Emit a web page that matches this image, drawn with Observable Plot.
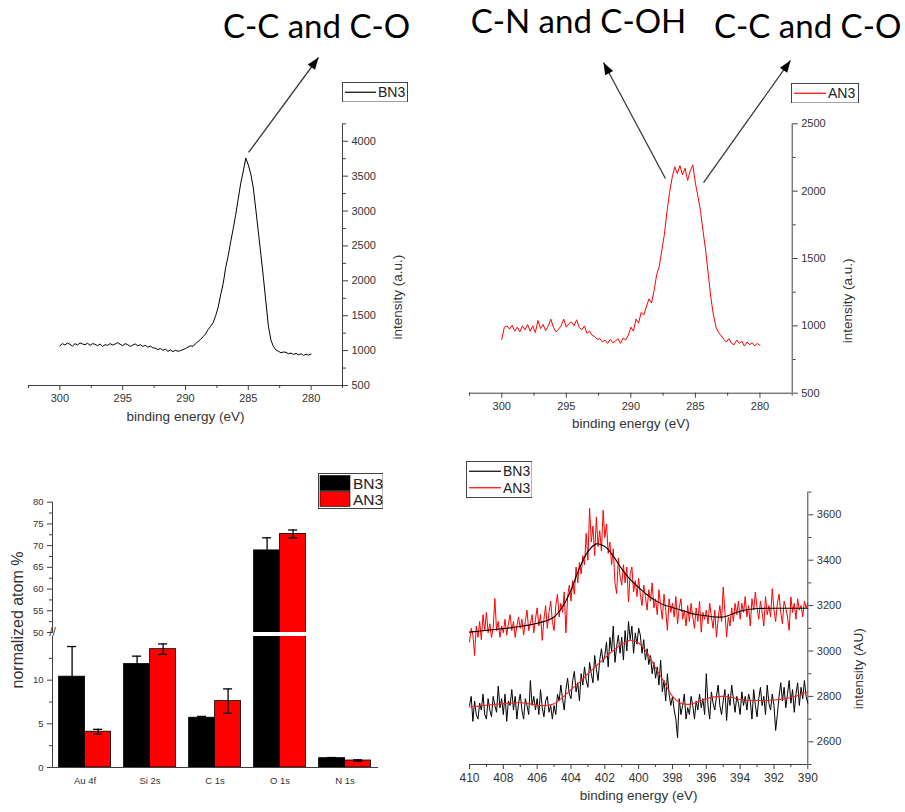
<!DOCTYPE html>
<html><head><meta charset="utf-8">
<script src="https://cdn.jsdelivr.net/npm/d3@7"></script>
<script src="https://cdn.jsdelivr.net/npm/@observablehq/plot@0.6"></script>
<style>
html,body{margin:0;padding:0;background:#fff;}
#wrap{position:relative;width:905px;height:812px;overflow:hidden;background:#fff;font-family:'Liberation Sans',Arial,Helvetica,sans-serif;}
</style></head><body><div id="wrap"></div>
<script>
// ---------------- DATA ----------------
// C 1s spectra, sampled from 300 eV down to 280 eV every 0.2 eV
const c1sStart = 300, c1sStep = 0.2;
const c1sBN3 = [
 1070,1100,1080,1110,1090,1065,1100,1080,1110,1095,
 1085,1105,1075,1100,1090,1070,1095,1060,1085,1075,
 1100,1080,1095,1115,1090,1070,1100,1085,1060,1080,
 1095,1070,1085,1060,1075,1050,1065,1040,1035,1015,
 1030,1005,1020,990,1010,985,1005,990,1000,1015,
 1030,1050,1070,1060,1100,1130,1160,1200,1240,1300,
 1350,1400,1500,1620,1800,1960,2190,2360,2560,2750,
 2950,3180,3400,3570,3760,3660,3530,3330,3020,2700,
 2380,2050,1700,1350,1150,1060,1010,990,970,980,
 975,955,965,945,960,940,955,930,950,935,
 950];
const c1sAN3 = [
 900,990,1000,975,1005,960,990,955,1000,970,
 1010,960,1000,950,1040,980,1010,965,1000,1050,
 990,955,975,1000,1050,990,1015,1030,1000,1045,
 990,970,1000,945,960,930,920,900,905,880,
 895,870,900,875,885,905,870,910,895,930,
 990,960,1050,1020,1100,1080,1140,1200,1170,1260,
 1380,1440,1560,1680,1850,1990,2100,2180,2130,2190,
 2120,2170,2080,2150,2195,2060,1960,1850,1700,1557,
 1380,1210,1080,990,950,925,900,880,905,870,
 860,895,870,885,850,880,860,875,850,870,
 855];

// N 1s spectra, sampled from 410 eV down to 390 eV every 0.1 eV
const n1sStart = 410, n1sStep = 0.1;
const n1sBN3 = [
 2760,2800,2690,2780,2720,2700,2770,2740,2810,2720,
 2700,2790,2740,2710,2800,2760,2730,2845,2750,2790,
 2720,2810,2690,2780,2760,2830,2740,2800,2700,2770,
 2810,2740,2700,2790,2760,2720,2870,2760,2800,2740,
 2790,2720,2830,2750,2710,2780,2800,2730,2760,2700,
 2760,2720,2810,2780,2850,2790,2740,2830,2880,2810,
 2790,2870,2910,2820,2860,2780,2900,2850,2930,2870,
 2840,2950,2900,2860,2980,2920,2870,2960,3010,2950,
 2980,3040,2930,3060,3000,3110,2950,3020,3070,2990,
 3060,2960,3090,3000,3130,3050,3110,2990,3080,3030,
 3100,3070,2990,3050,2960,3010,2940,2980,2900,2950,
 2880,2930,2850,2960,2820,2870,2780,2900,2810,2760,
 2800,2740,2700,2617,2790,2720,2760,2810,2700,2750,
 2720,2800,2760,2700,2780,2740,2810,2750,2790,2720,
 2900,2760,2700,2820,2770,2740,2800,2850,2760,2720,
 2780,2830,2694,2810,2760,2850,2790,2730,2800,2770,
 2720,2820,2760,2800,2740,2810,2780,2700,2830,2760,
 2710,2790,2840,2760,2800,2720,2850,2770,2740,2810,
 2760,2650,2720,2800,2860,2780,2840,2750,2810,2870,
 2770,2830,2730,2810,2860,2760,2840,2790,2870,2800,
 2770];
const n1sAN3 = [
 3040,3100,3070,2980,3110,3060,3130,3050,3160,3090,
 3170,3080,3120,3060,3100,3231,3090,3130,3060,3110,
 3080,3140,3070,3120,3160,3090,3130,3060,3110,3150,
 3100,3140,3070,3130,3180,3090,3120,3160,3080,3140,
 3190,3110,3160,3047,3140,3200,3100,3170,3220,3130,
 3090,3200,3250,3150,3210,3170,3260,3080,3240,3290,
 3220,3310,3250,3370,3300,3390,3340,3420,3380,3518,
 3400,3628,3480,3550,3420,3590,3460,3530,3440,3620,
 3500,3560,3430,3480,3380,3450,3300,3253,3410,3330,
 3290,3380,3300,3370,3216,3340,3370,3260,3310,3240,
 3320,3250,3200,3290,3240,3180,3270,3220,3300,3190,
 3230,3160,3270,3200,3140,3250,3180,3091,3230,3170,
 3210,3150,3240,3120,3190,3230,3140,3180,3110,3200,
 3130,3210,3150,3100,3190,3130,3220,3083,3170,3140,
 3180,3120,3210,3150,3100,3180,3061,3140,3200,3130,
 3282,3170,3061,3150,3110,3190,3130,3210,3160,3220,
 3140,3210,3170,3240,3150,3200,3110,3230,3180,3260,
 3190,3140,3220,3170,3110,3240,3160,3200,3150,3275,
 3180,3130,3210,3250,3170,3120,3220,3190,3150,3091,
 3238,3170,3210,3140,3230,3180,3200,3150,3220,3190,
 3210];
// fitted envelopes, sampled from 410 eV down to 390 eV every 0.5 eV
const fitStart = 410, fitStep = 0.5;
const n1sFitAN3 = [3083,3087,3091,3095,3099,3103,3108,3114,3122,3132,3150,3195,3268,3365,3438,3472,3460,3418,3362,3315,3280,3248,3222,3203,3192,3180,3168,3160,3155,3150,3150,3162,3175,3183,3187,3188,3188,3188,3188,3188,3188];
const n1sFitBN3 = [2753,2757,2761,2765,2768,2771,2772,2768,2761,2760,2768,2795,2830,2862,2900,2935,2970,3002,3030,3047,3035,2992,2925,2865,2800,2770,2765,2775,2790,2798,2800,2795,2786,2783,2782,2782,2784,2788,2795,2806,2820];

// atomic composition
const barCats = ["Au 4f", "Si 2s", "C 1s", "O 1s", "N 1s"];
const seriesNames = ["BN3", "AN3"];
const bn3Atom = [10.4, 11.85, 5.7, 68.9, 1.07];
const bn3AtomErr = [3.45, 0.9, 0.15, 2.9, 0.07];
const an3Atom = [4.1, 13.55, 7.6, 72.7, 0.8];
const an3AtomErr = [0.27, 0.6, 1.4, 0.9, 0.08];

// axes
const c1sDomainX = [302.5, 277.5];
const c1sXTicks = [300, 295, 290, 285, 280];
const c1sXMinor = [302.5, 297.5, 292.5, 287.5, 282.5, 277.5];
const bn3C1sDomainY = [500, 4250];
const bn3C1sYTicks = [500, 1000, 1500, 2000, 2500, 3000, 3500, 4000];
const bn3C1sYMinor = [750, 1250, 1750, 2250, 2750, 3250, 3750, 4250];
const an3C1sDomainY = [500, 2500];
const an3C1sYTicks = [500, 1000, 1500, 2000, 2500];
const an3C1sYMinor = [750, 1250, 1750, 2250];
const n1sDomainX = [410, 390];
const n1sXTicks = [410, 408, 406, 404, 402, 400, 398, 396, 394, 392, 390];
const n1sXMinor = [409, 407, 405, 403, 401, 399, 397, 395, 393, 391];
const n1sDomainY = [2500, 3700];
const n1sYTicks = [2600, 2800, 3000, 3200, 3400, 3600];
const n1sYMinor = [2500, 2700, 2900, 3100, 3300, 3500, 3700];
const upperDomain = [50, 80];
const upperTicks = [50, 55, 60, 65, 70, 75, 80];
const upperMinor = [52.5, 57.5, 62.5, 67.5, 72.5, 77.5];
const lowerDomain = [0, 15];
const lowerTicks = [0, 5, 10];
const lowerMinor = [2.5, 7.5, 12.5];

// annotations (in data units of each panel)
const annoTextBN3 = [{label: "C-C and C-O", e: 279.57, v: 5630}];
const annoArrowBN3 = [{e1: 284.98, v1: 3839, e2: 279.41, v2: 5200}];
const annoTextAN3 = [{label: "C-N and C-OH", e: 294.06, v: 3252}, {label: "C-C and C-O", e: 276.3, v: 3215}];
const annoArrowAN3 = [{e1: 287.32, v1: 2094, e2: 292.12, v2: 2955}, {e1: 284.37, v1: 2064, e2: 277.63, v2: 2970}];

// ---------------- DRAWING ----------------
const FONT = "'Liberation Sans', Arial, Helvetica, sans-serif";
const BIG = "Lato, 'Open Sans', sans-serif";
const AX = "#404040", TX = "#333";
const SVGNS = "http://www.w3.org/2000/svg";
const wrap = document.getElementById("wrap");
function place(el, left, top) {
  el.style.position = "absolute"; el.style.left = left + "px"; el.style.top = top + "px";
  wrap.appendChild(el); return el;
}
const fmt = d => String(d);
const blank = () => "";

// filled arrowhead marker
function filledHead() {
  const m = document.createElementNS(SVGNS, "marker");
  m.setAttribute("viewBox", "-12 -4.5 12 9");
  m.setAttribute("markerWidth", "12");
  m.setAttribute("markerHeight", "9");
  m.setAttribute("markerUnits", "userSpaceOnUse");
  m.setAttribute("orient", "auto");
  m.setAttribute("overflow", "visible");
  const p = document.createElementNS(SVGNS, "path");
  p.setAttribute("d", "M-12,-4.5L0,0L-12,4.5Z");
  p.setAttribute("fill", "#000");
  p.setAttribute("stroke", "none");
  m.appendChild(p);
  return m;
}

function spectrumAxes(domX, domY, xt, xm, yt, ym, xLabel, yLabel, fs, yLabDx) {
  return [
    Plot.ruleY([domY[0]], {stroke: AX}),
    Plot.ruleX([domX[1]], {stroke: AX}),
    Plot.axisX({ticks: xt, tickSize: 5, fontSize: fs, stroke: AX, fill: TX, tickFormat: fmt, label: null}),
    Plot.axisX({ticks: xm, tickSize: 3, stroke: AX, tickFormat: blank, label: null}),
    Plot.axisY({anchor: "right", ticks: yt, tickSize: 5, fontSize: 11, stroke: AX, fill: TX, tickFormat: fmt, label: null}),
    Plot.axisY({anchor: "right", ticks: ym, tickSize: 3, stroke: AX, tickFormat: blank, label: null}),
    Plot.text([xLabel], {text: d => d, frameAnchor: "bottom", dy: 35, fontSize: 13.5, fill: TX}),
    Plot.text([yLabel], {text: d => d, frameAnchor: "right", dx: yLabDx, rotate: -90, fontSize: 13.5, fill: TX})
  ];
}

// Panel 1: C 1s BN3
const p1 = Plot.plot({
  width: 440, height: 430, marginLeft: 28, marginRight: 98, marginTop: 123.3, marginBottom: 45,
  style: {background: "transparent", fontFamily: FONT, color: TX},
  x: {domain: c1sDomainX}, y: {domain: bn3C1sDomainY},
  marks: [
    ...spectrumAxes(c1sDomainX, bn3C1sDomainY, c1sXTicks, c1sXMinor, bn3C1sYTicks, bn3C1sYMinor, "binding energy (eV)", "intensity (a.u.)", 11, 55),
    Plot.line(c1sBN3, {x: (d, i) => c1sStart - i * c1sStep, y: d => d, stroke: "#000", strokeWidth: 1}),
    Plot.link(annoArrowBN3, {x1: "e1", y1: "v1", x2: "e2", y2: "v2", stroke: "#3a3a3a", strokeWidth: 1.3, markerEnd: filledHead}),
    Plot.text(annoTextBN3, {x: "e", y: "v", text: "label", fontSize: 33, fontFamily: BIG, fill: "#000"})
  ]
});
place(p1, 0, 0);

// Panel 2: C 1s AN3
const p2 = Plot.plot({
  width: 465, height: 440, marginLeft: 29, marginRight: 113.3, marginTop: 123.3, marginBottom: 47.3,
  style: {background: "transparent", fontFamily: FONT, color: TX},
  x: {domain: c1sDomainX}, y: {domain: an3C1sDomainY},
  marks: [
    ...spectrumAxes(c1sDomainX, an3C1sDomainY, c1sXTicks, c1sXMinor, an3C1sYTicks, an3C1sYMinor, "binding energy (eV)", "intensity (a.u.)", 11, 55),
    Plot.line(c1sAN3, {x: (d, i) => c1sStart - i * c1sStep, y: d => d, stroke: "#ff0000", strokeWidth: 1}),
    Plot.link(annoArrowAN3, {x1: "e1", y1: "v1", x2: "e2", y2: "v2", stroke: "#3a3a3a", strokeWidth: 1.3, markerEnd: filledHead}),
    Plot.text(annoTextAN3, {x: "e", y: "v", text: "label", fontSize: 33, fontFamily: BIG, fill: "#000"})
  ]
});
place(p2, 440, 0);

// Panel 4: N 1s
const p4 = Plot.plot({
  width: 455, height: 352, marginLeft: 19, marginRight: 97.7, marginTop: 31.6, marginBottom: 48,
  style: {background: "transparent", fontFamily: FONT, color: TX},
  x: {domain: n1sDomainX}, y: {domain: n1sDomainY},
  marks: [
    ...spectrumAxes(n1sDomainX, n1sDomainY, n1sXTicks, n1sXMinor, n1sYTicks, n1sYMinor, "binding energy (eV)", "intensity (AU)", 12, 51),
    Plot.line(n1sAN3, {x: (d, i) => n1sStart - i * n1sStep, y: d => d, stroke: "#ff0000", strokeWidth: 1}),
    Plot.line(n1sBN3, {x: (d, i) => n1sStart - i * n1sStep, y: d => d, stroke: "#000", strokeWidth: 1}),
    Plot.line(n1sFitAN3, {x: (d, i) => fitStart - i * fitStep, y: d => d, stroke: "#000", strokeWidth: 1.1, curve: "catmull-rom"}),
    Plot.line(n1sFitBN3, {x: (d, i) => fitStart - i * fitStep, y: d => d, stroke: "#ff2020", strokeWidth: 1.1, curve: "catmull-rom"})
  ]
});
place(p4, 450, 460);

// Panel 3: composition bars with a broken axis
const rows = barCats.flatMap((c, i) => [
  {cat: c, series: "BN3", value: bn3Atom[i], err: bn3AtomErr[i]},
  {cat: c, series: "AN3", value: an3Atom[i], err: an3AtomErr[i]}
]);
function barMarks() {
  return [
    Plot.barY(rows, {fx: "cat", x: "series", y: "value", fill: "series", stroke: "#000", strokeWidth: 0.8, clip: true}),
    Plot.ruleX(rows, {fx: "cat", x: "series", y1: d => d.value - d.err, y2: d => d.value + d.err, stroke: "#000", strokeWidth: 1.3, clip: true}),
    Plot.tickY(rows, {fx: "cat", x: "series", y: d => d.value + d.err, stroke: "#000", strokeWidth: 1.3, insetLeft: 8.5, insetRight: 8.5, clip: true}),
    Plot.tickY(rows, {fx: "cat", x: "series", y: d => d.value - d.err, stroke: "#000", strokeWidth: 1.3, insetLeft: 8.5, insetRight: 8.5, clip: true})
  ];
}
const barScales = {
  x: {domain: seriesNames, paddingInner: 0, paddingOuter: 0.234, axis: null},
  color: {domain: seriesNames, range: ["#000000", "#ff0000"]}
};
const upper = Plot.plot({
  width: 400, height: 180, marginLeft: 49.4, marginRight: 21.4, marginTop: 41.7, marginBottom: 8,
  style: {background: "transparent", fontFamily: FONT, color: TX},
  fx: {domain: barCats, padding: 0, axis: null},
  y: {domain: upperDomain},
  ...barScales,
  marks: [
    ...barMarks(),
    Plot.frame({anchor: "left", facetAnchor: "left", stroke: AX}),
    Plot.axisY({ticks: upperTicks, tickSize: 5, fontSize: 9.5, stroke: AX, fill: TX, tickFormat: fmt, label: null}),
    Plot.axisY({ticks: upperMinor, tickSize: 3, stroke: AX, tickFormat: blank, label: null}),
    Plot.text(["//"], {text: d => d, frameAnchor: "bottom-left", textAnchor: "middle", dy: 3, fontSize: 12, fill: AX, facetAnchor: "left"})
  ]
});
const lower = Plot.plot({
  width: 400, height: 176, marginLeft: 49.4, marginRight: 21.4, marginTop: 0, marginBottom: 45,
  style: {background: "transparent", fontFamily: FONT, color: TX},
  fx: {domain: barCats, padding: 0, label: null},
  y: {domain: lowerDomain},
  ...barScales,
  marks: [
    ...barMarks(),
    Plot.frame({anchor: "left", facetAnchor: "left", stroke: AX}),
    Plot.frame({anchor: "bottom", stroke: AX}),
    Plot.axisY({ticks: lowerTicks, tickSize: 5, fontSize: 9.5, stroke: AX, fill: TX, tickFormat: fmt, label: null}),
    Plot.axisY({ticks: lowerMinor, tickSize: 3, stroke: AX, tickFormat: blank, label: null}),
    Plot.axisFx({anchor: "bottom", tickSize: 0, tickPadding: 10, fontSize: 9.5, fill: TX, label: null})
  ]
});
place(lower, 0, 636);
place(upper, 0, 460);

// y label of the bar chart
const yl = document.createElement("div");
yl.textContent = "normalized atom %";
yl.style.cssText = "font-size:16px;color:#333;white-space:nowrap;transform:translate(-50%,-50%) rotate(-90deg);";
place(yl, 18, 620);

// legends
function legend(items, left, top, w, h, kind, fs, rowH, sw) {
  const s = document.createElementNS(SVGNS, "svg");
  s.setAttribute("width", w); s.setAttribute("height", h);
  let html = `<rect x="0.5" y="0.5" width="${w - 1}" height="${h - 1}" fill="#fff" stroke="#444"/>`;
  items.forEach((it, i) => {
    const cy = 2 + rowH * (i + 0.5);
    if (kind === "line") html += `<line x1="3" x2="${3 + sw}" y1="${cy}" y2="${cy}" stroke="${it.color}" stroke-width="1.2"/>`;
    else html += `<rect x="2" y="${cy - rowH / 2 + 0.5}" width="${sw}" height="${rowH - 1}" fill="${it.color}" stroke="#000" stroke-width="0.6"/>`;
    html += `<text x="${sw + 5}" y="${cy}" dominant-baseline="central" font-size="${fs}" fill="#222" font-family="Liberation Sans, Arial, sans-serif">${it.name}</text>`;
  });
  s.innerHTML = html;
  place(s, left, top);
}
legend([{name: "BN3", color: "#000"}], 341.5, 81.7, 66, 20.5, "line", 14, 16.5, 31);
legend([{name: "AN3", color: "#ff0000"}], 791, 82.7, 68, 20.5, "line", 14, 16.5, 32);
legend([{name: "BN3", color: "#000"}, {name: "AN3", color: "#ff0000"}], 465.7, 461, 66.6, 37, "line", 14, 16.5, 32);
legend([{name: "BN3", color: "#000"}, {name: "AN3", color: "#ff0000"}], 317.7, 472.7, 65.6, 36, "rect", 15.5, 16, 30);
</script></body></html>
